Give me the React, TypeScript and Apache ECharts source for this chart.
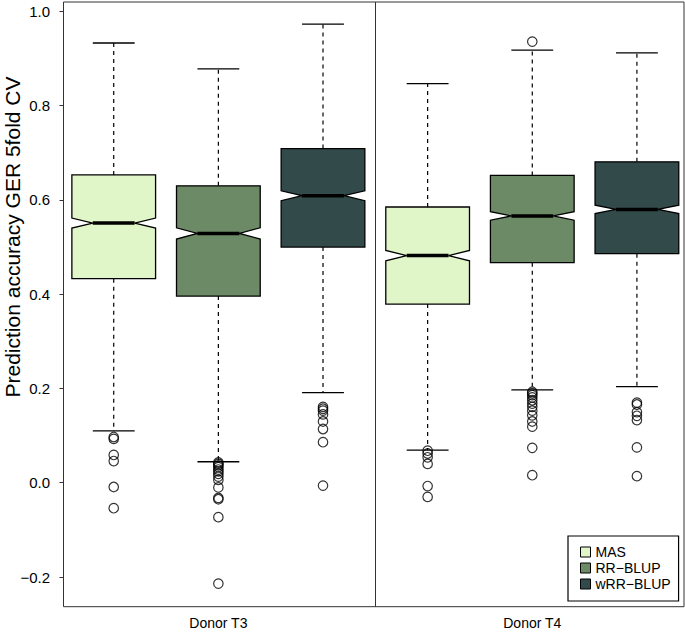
import React, { useEffect, useRef } from 'react';
import * as echarts from 'echarts';

const donors = ['Donor T3', 'Donor T4'];
const methods = ['MAS', 'RR−BLUP', 'wRR−BLUP'];
const fills = ['#E0F5C8', '#6B8A65', '#334A4A'];
const yTitle = 'Prediction accuracy GER 5fold CV';

// [lower whisker, Q1, median, Q3, upper whisker] for Donor T3, Donor T4
const masStats = [
  [0.110, 0.433, 0.551, 0.653, 0.933],
  [0.069, 0.379, 0.482, 0.585, 0.847],
];
const rrStats = [
  [0.0445, 0.396, 0.529, 0.630, 0.878],
  [0.197, 0.467, 0.566, 0.652, 0.918],
];
const wrrStats = [
  [0.191, 0.500, 0.609, 0.709, 0.973],
  [0.204, 0.486, 0.580, 0.681, 0.912],
];
// notch half-heights around the median
const masNotch = [0.0105, 0.011];
const rrNotch = [0.012, 0.009];
const wrrNotch = [0.0105, 0.009];

// outliers for Donor T3, Donor T4
const masOutliers = [
  [0.097, 0.093, 0.059, 0.046, -0.009, -0.054],
  [0.068, 0.062, 0.054, 0.040, -0.007, -0.030],
];
const rrOutliers = [
  [0.043, 0.040, 0.037, 0.033, 0.028, 0.024, 0.019, 0.013, 0.006, -0.010, -0.032, -0.035, -0.073, -0.214],
  [0.936, 0.193, 0.190, 0.186, 0.181, 0.175, 0.168, 0.161, 0.153, 0.143, 0.130, 0.119, 0.074, 0.016],
];
const wrrOutliers = [
  [0.161, 0.157, 0.153, 0.145, 0.130, 0.114, 0.086, -0.006],
  [0.170, 0.166, 0.150, 0.142, 0.133, 0.075, 0.014],
];

const yTicks = [-0.2, 0, 0.2, 0.4, 0.6, 0.8, 1.0];
const donorTickPositions = [2, 5];

const allStats = [masStats, rrStats, wrrStats];
const allNotch = [masNotch, rrNotch, wrrNotch];
const allOutliers = [masOutliers, rrOutliers, wrrOutliers];

const FONT = 'Liberation Sans, Arial, Helvetica, sans-serif';

export default function App() {
  const ref = useRef<HTMLDivElement>(null);
  useEffect(() => {
    if (!ref.current) return;
    const chart = echarts.init(ref.current, undefined, { renderer: 'svg' });

    const boxSeries = methods.map((m, mi) => ({
      name: m,
      type: 'custom',
      itemStyle: { color: fills[mi], borderColor: '#000', borderWidth: 1 },
      encode: { x: 0, y: [1, 2, 3, 4, 5] },
      data: donors.map((_, di) => [di * 3 + mi + 1, ...allStats[mi][di], allNotch[mi][di]]),
      renderItem: (params: any, api: any) => {
        const pos = api.value(0);
        const lo = api.value(1), q1 = api.value(2), med = api.value(3), q3 = api.value(4), hi = api.value(5), n = api.value(6);
        const cx = api.coord([pos, med])[0];
        const y = (v: number) => api.coord([pos, v])[1];
        const hw = api.size([0.8, 0])[0] / 2;
        const yLo = y(lo), yQ1 = y(q1), yMed = y(med), yQ3 = y(q3), yHi = y(hi), yNu = y(med + n), yNl = y(med - n);
        const dash = { stroke: '#000', lineWidth: 1.2, lineDash: [4, 4] };
        const solid = { stroke: '#000', lineWidth: 1.3 };
        return {
          type: 'group',
          children: [
            { type: 'line', shape: { x1: cx, y1: yQ3, x2: cx, y2: yHi }, style: dash },
            { type: 'line', shape: { x1: cx, y1: yQ1, x2: cx, y2: yLo }, style: dash },
            { type: 'line', shape: { x1: cx - hw / 2, y1: yHi, x2: cx + hw / 2, y2: yHi }, style: solid },
            { type: 'line', shape: { x1: cx - hw / 2, y1: yLo, x2: cx + hw / 2, y2: yLo }, style: solid },
            {
              type: 'polygon',
              shape: {
                points: [
                  [cx - hw, yQ3], [cx + hw, yQ3], [cx + hw, yNu], [cx + hw / 2, yMed], [cx + hw, yNl],
                  [cx + hw, yQ1], [cx - hw, yQ1], [cx - hw, yNl], [cx - hw / 2, yMed], [cx - hw, yNu],
                ],
              },
              style: { fill: fills[mi], stroke: '#000', lineWidth: 1.3 },
            },
            { type: 'line', shape: { x1: cx - hw / 2, y1: yMed, x2: cx + hw / 2, y2: yMed }, style: { stroke: '#000', lineWidth: 3.5 } },
          ],
        };
      },
    }));

    const outlierData: number[][] = [];
    methods.forEach((_, mi) => donors.forEach((__, di) => allOutliers[mi][di].forEach((v) => outlierData.push([di * 3 + mi + 1, v]))));

    const option = {
      animation: false,
      backgroundColor: '#fff',
      textStyle: { fontFamily: FONT },
      graphic: [
        {
          type: 'text',
          x: 12,
          y: 237,
          rotation: Math.PI / 2,
          style: { text: yTitle, fontSize: 21, fontFamily: FONT, fill: '#000', textAlign: 'center', textVerticalAlign: 'middle' },
        },
      ],
      grid: {
        left: 63.5, right: 1, top: 2, bottom: 29.3,
        containLabel: false, outerBoundsMode: 'none',
        show: true, borderColor: '#333', borderWidth: 1, backgroundColor: 'transparent',
      },
      legend: {
        data: methods,
        orient: 'vertical',
        left: 568,
        top: 536,
        padding: [8, 8, 9, 12],
        itemWidth: 10,
        itemHeight: 10,
        itemGap: 0,
        icon: 'rect',
        borderColor: '#000',
        borderWidth: 1.2,
        backgroundColor: '#fff',
        selectedMode: false,
        itemStyle: { borderColor: '#000', borderWidth: 1 },
        textStyle: { fontSize: 14, lineHeight: 16, color: '#000', fontFamily: FONT },
      },
      xAxis: {
        type: 'value',
        min: 0.52,
        max: 6.45,
        axisLine: { show: false },
        axisTick: { show: false },
        splitLine: { show: false },
        axisLabel: {
          customValues: donorTickPositions,
          formatter: (v: number) => donors[donorTickPositions.indexOf(v)] ?? '',
          fontSize: 14,
          color: '#000',
          margin: 9,
          fontFamily: FONT,
        },
      },
      yAxis: {
        type: 'value',
        min: -0.263,
        max: 1.02,
        axisLine: { show: false },
        splitLine: { show: false },
        axisTick: { show: true, customValues: yTicks, length: 4, lineStyle: { color: '#333', width: 1 } },
        axisLabel: {
          customValues: yTicks,
          formatter: (v: number) => (v < 0 ? '−' : '') + Math.abs(v).toFixed(1),
          fontSize: 15,
          color: '#000',
          margin: 13.5,
          fontFamily: FONT,
        },
      },
      series: [
        ...boxSeries,
        {
          name: 'outliers',
          type: 'scatter',
          symbol: 'circle',
          symbolSize: 9.5,
          itemStyle: { color: 'rgba(255,255,255,0)', borderColor: '#000', borderWidth: 1.2 },
          data: outlierData,
          z: 5,
          markLine: {
            silent: true,
            symbol: 'none',
            label: { show: false },
            lineStyle: { color: '#333', width: 1, type: 'solid' },
            data: [{ xAxis: 3.5 }],
          },
        },
      ],
    };
    chart.setOption(option as any);
    return () => chart.dispose();
  }, []);
  return <div ref={ref} style={{ position: 'fixed', left: 0, top: 0, width: 685, height: 636 }} />;
}
